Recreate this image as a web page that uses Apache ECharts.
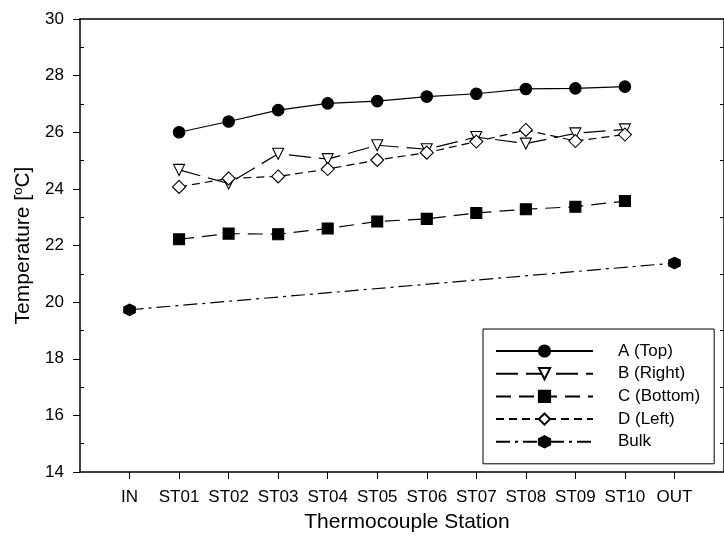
<!DOCTYPE html>
<html>
<head>
<meta charset="utf-8">
<script src="https://cdn.jsdelivr.net/npm/echarts@6/dist/echarts.min.js"></script>
<style>html,body{margin:0;padding:0;background:#fff;}#c{width:724px;height:538px;}</style>
</head>
<body>
<div id="c"></div>
<script>
var categories = ['IN','ST01','ST02','ST03','ST04','ST05','ST06','ST07','ST08','ST09','ST10','OUT'];
var stations = ['ST01','ST02','ST03','ST04','ST05','ST06','ST07','ST08','ST09','ST10'];
var aTop = [26.00, 26.38, 26.78, 27.02, 27.10, 27.26, 27.36, 27.53, 27.55, 27.61];
var bRight = [24.67, 24.19, 25.24, 25.05, 25.54, 25.40, 25.83, 25.60, 25.96, 26.10];
var cBottom = [22.22, 22.42, 22.40, 22.60, 22.85, 22.94, 23.15, 23.28, 23.37, 23.57];
var dLeft = [24.07, 24.37, 24.44, 24.70, 25.02, 25.28, 25.67, 26.08, 25.69, 25.92];
var bulkStations = ['IN','OUT'];
var bulk = [19.73, 21.38];
var seriesNames = ['A (Top)','B (Right)','C (Bottom)','D (Left)','Bulk'];
var yTicks = {min: 14, max: 30, step: 2};

var FONT = 'Liberation Sans, Arial, sans-serif';
var axisData = [''].concat(categories).concat([' ']);
function inner(i){ return i >= 1 && i <= categories.length; }
function pairs(names, vals){ return names.map(function(n,i){ return [n, vals[i]]; }); }

var triDown = 'path://M0,0 L10,0 L5,9 Z';
var hexagon = 'path://M5,0 L9.33,2.5 L9.33,7.5 L5,10 L0.67,7.5 L0.67,2.5 Z';

function mkSeries(name, names, vals, symbol, size, fill, dash){
  return {
    name: name, type: 'line', xAxisIndex: 0, yAxisIndex: 0,
    data: pairs(names, vals),
    symbol: symbol, symbolSize: size, showAllSymbol: true,
    lineStyle: {color: '#000', width: 1.2, type: dash},
    itemStyle: {color: fill, borderColor: '#000', borderWidth: 1.1},
    emphasis: {disabled: true},
    animation: false
  };
}

var chart = echarts.init(document.getElementById('c'), null, {renderer: 'canvas'});
chart.setOption({
  backgroundColor: '#fff',
  animation: false,
  textStyle: {fontFamily: FONT},
  grid: {left: 80, top: 19, width: 646, height: 454, containLabel: false},
  legend: {
    orient: 'vertical', left: 483, top: 329,
    data: seriesNames,
    itemWidth: 97, itemHeight: 14, itemGap: 4.7,
    padding: [13, 14, 13, 12],
    borderColor: '#000', borderWidth: 1, backgroundColor: '#fff',
    selectedMode: false,
    textStyle: {fontFamily: FONT, fontSize: 17, color: '#000', lineHeight: 18, padding: [0, 0, 0, 20]}
  },
  xAxis: [{
    type: 'category', data: axisData, boundaryGap: false, position: 'bottom',
    name: 'Thermocouple Station', nameLocation: 'middle', nameGap: 40,
    nameTextStyle: {fontFamily: FONT, fontSize: 21, color: '#000', padding: [0, 0, 0, 10]},
    axisLine: {onZero: false, lineStyle: {color: '#000', width: 1.5}},
    axisTick: {show: true, length: 7, interval: function(i){ return inner(i); }, lineStyle: {color: '#000', width: 1}},
    axisLabel: {interval: function(i){ return inner(i); }, fontFamily: FONT, fontSize: 17, color: '#000', margin: 17},
    splitLine: {show: false}
  }, {
    type: 'category', data: axisData, boundaryGap: false, position: 'top',
    axisLine: {onZero: false, lineStyle: {color: '#000', width: 1.5}},
    axisTick: {show: false}, axisLabel: {show: false}, splitLine: {show: false}
  }],
  yAxis: [{
    type: 'value', position: 'left', min: yTicks.min, max: yTicks.max, interval: yTicks.step,
    name: 'Temperature [{sup|o}C]', nameLocation: 'middle', nameGap: 43,
    nameTextStyle: {fontFamily: FONT, fontSize: 21, color: '#000',
      rich: {sup: {fontFamily: FONT, fontSize: 13, color: '#000', padding: [0, 0, 10, 0]}}},
    axisLine: {show: true, onZero: false, lineStyle: {color: '#000', width: 1.5}},
    axisTick: {show: true, length: 7, lineStyle: {color: '#000', width: 1}},
    axisLabel: {fontFamily: FONT, fontSize: 17, color: '#000', margin: 16},
    splitLine: {show: false}
  }, {
    type: 'value', position: 'left', min: yTicks.min, max: yTicks.max, interval: yTicks.step,
    axisLine: {show: false}, axisTick: {show: false, inside: true}, axisLabel: {show: false},
    minorTick: {show: true, splitNumber: 2, length: 4, lineStyle: {color: '#000', width: 1}},
    splitLine: {show: false}
  }, {
    type: 'value', position: 'right', min: yTicks.min, max: yTicks.max, interval: yTicks.step,
    axisLine: {show: true, onZero: false, lineStyle: {color: '#000', width: 1.5}},
    axisTick: {show: false, inside: true}, axisLabel: {show: false},
    minorTick: {show: true, splitNumber: 2, length: 4, lineStyle: {color: '#000', width: 1}},
    splitLine: {show: false}
  }],
  series: [
    mkSeries(seriesNames[0], stations, aTop, 'circle', 11.5, '#000', 'solid'),
    mkSeries(seriesNames[1], stations, bRight, triDown, 11, '#fff', [22, 8]),
    mkSeries(seriesNames[2], stations, cBottom, 'rect', 11, '#000', [15, 8]),
    mkSeries(seriesNames[3], stations, dLeft, 'diamond', 13, '#fff', [8, 5]),
    mkSeries(seriesNames[4], bulkStations, bulk, hexagon, 11.5, '#000', [14, 5, 3, 5])
  ]
});
</script>
</body>
</html>
